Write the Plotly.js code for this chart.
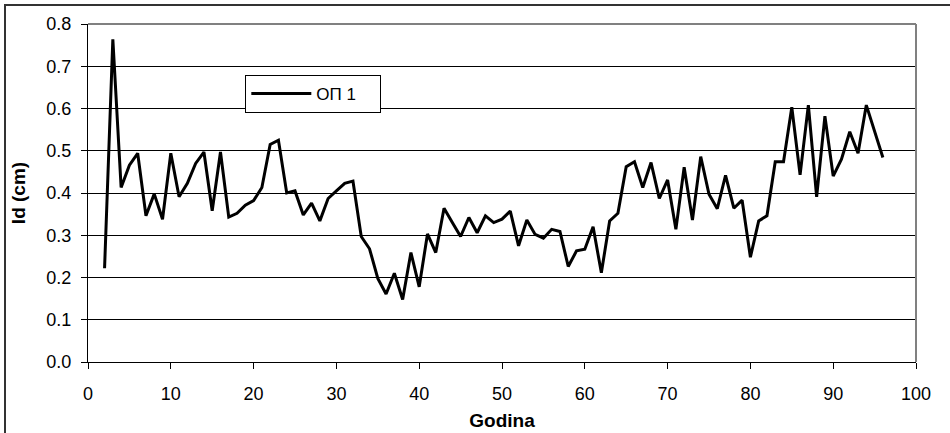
<!DOCTYPE html>
<html>
<head>
<meta charset="utf-8">
<script src="https://cdn.plot.ly/plotly-3.0.1.min.js"></script>
<style>
  html, body { margin: 0; padding: 0; background: #fff; }
  #wrap { position: relative; width: 950px; height: 433px; overflow: hidden; }
  #frame { position: absolute; left: 4px; top: 4px; width: 960px; height: 440px;
           border-top: 2px solid #333; border-left: 2px solid #333; pointer-events: none; z-index: 5; }
  #chart { position: absolute; left: 0; top: 0; width: 950px; height: 433px; }
</style>
</head>
<body>
<div id="wrap">
  <div id="chart"></div>
  <div id="frame"></div>
</div>
<script>
const seriesName = "ОП 1";
const hours = [2,3,4,5,6,7,8,9,10,11,12,13,14,15,16,17,18,19,20,21,22,23,24,25,26,27,28,29,30,
  31,32,33,34,35,36,37,38,39,40,41,42,43,44,45,46,47,48,49,50,51,52,53,54,55,56,57,58,59,60,
  61,62,63,64,65,66,67,68,69,70,71,72,73,74,75,76,77,78,79,80,81,82,83,84,85,86,87,88,89,90,
  91,92,93,94,95,96];
const idValues = [0.222,0.764,0.413,0.466,0.494,0.346,0.398,0.338,0.494,0.391,0.423,0.470,0.497,0.358,0.497,
  0.343,0.352,0.371,0.382,0.413,0.515,0.525,0.400,0.405,0.348,0.376,0.334,0.387,0.405,
  0.423,0.428,0.297,0.268,0.198,0.161,0.210,0.148,0.259,0.178,0.303,0.259,0.364,0.330,0.297,0.342,
  0.306,0.346,0.330,0.338,0.357,0.275,0.336,0.302,0.293,0.314,0.309,0.226,0.263,0.267,
  0.320,0.211,0.334,0.352,0.462,0.474,0.413,0.472,0.387,0.431,0.314,0.461,0.336,0.486,0.397,
  0.363,0.442,0.364,0.383,0.248,0.334,0.346,0.474,0.474,0.603,0.443,0.608,0.391,0.582,0.440,
  0.480,0.545,0.494,0.608,0.546,0.484];
const xTitle = "Godina";
const yTitle = "Id (cm)";

const fontFam = '"Liberation Sans", Arial, sans-serif';

const trace = {
  x: hours, y: idValues, type: 'scatter', mode: 'lines',
  name: seriesName + '\u00a0\u00a0\u00a0\u00a0',
  line: { color: '#000000', width: 3 }
};

const layout = {
  width: 950, height: 433,
  margin: { l: 88, r: 34, t: 24, b: 71 },
  paper_bgcolor: '#ffffff', plot_bgcolor: '#ffffff',
  font: { family: fontFam, size: 18, color: '#000' },
  showlegend: true,
  legend: {
    x: 0.19, y: 0.849, xanchor: 'left', yanchor: 'top',
    bgcolor: '#ffffff', bordercolor: '#000000', borderwidth: 1,
    itemwidth: 60,
    font: { family: fontFam, size: 17, color: '#000' }
  },
  xaxis: {
    range: [0, 100], dtick: 10, tick0: 0,
    showgrid: false, zeroline: false,
    showline: true, linecolor: '#000', linewidth: 1,
    ticks: 'outside', ticklen: 6, tickcolor: '#000',
    ticklabelstandoff: 9,
    tickfont: { family: fontFam, size: 18, color: '#000' },
    title: { text: xTitle, font: { family: fontFam, size: 19, color: '#000', weight: 'bold' }, standoff: 11 }
  },
  yaxis: {
    range: [0, 0.8], dtick: 0.1, tick0: 0, tickformat: '.1f',
    showgrid: true, gridcolor: '#000', gridwidth: 1, zeroline: false,
    showline: true, linecolor: '#000', linewidth: 1,
    ticks: 'outside', ticklen: 6, tickcolor: '#000',
    ticklabelstandoff: 6,
    tickfont: { family: fontFam, size: 18, color: '#000' },
    title: { text: yTitle, font: { family: fontFam, size: 19, color: '#000', weight: 'bold' }, standoff: 15 }
  },
  shapes: [
    { type: 'line', xref: 'paper', yref: 'paper', x0: 0, x1: 1, y0: 1, y1: 1, line: { color: '#808080', width: 2 }, layer: 'above' },
    { type: 'line', xref: 'paper', yref: 'paper', x0: 1, x1: 1, y0: 0, y1: 1, line: { color: '#808080', width: 2 }, layer: 'above' }
  ]
};

Plotly.newPlot('chart', [trace], layout, { staticPlot: true, displayModeBar: false });
</script>
</body>
</html>
